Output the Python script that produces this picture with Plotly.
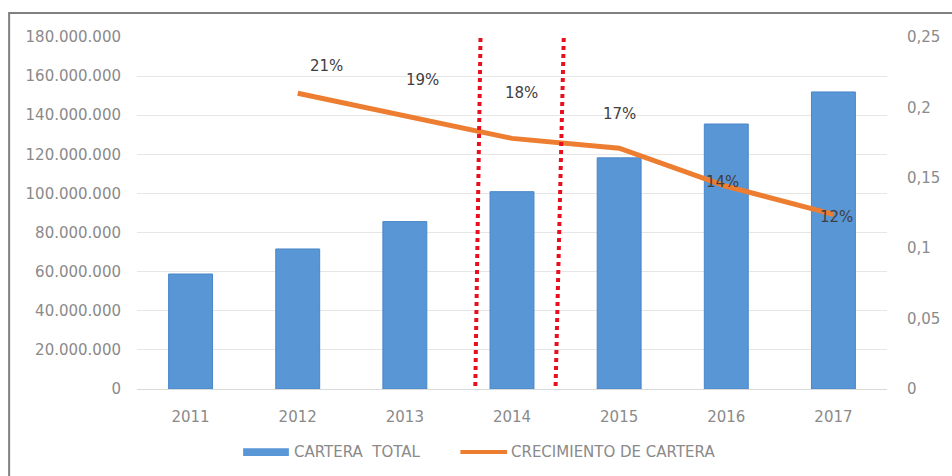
import plotly.graph_objects as go

# Portfolio totals per year and year-over-year growth
years = ["2011", "2012", "2013", "2014", "2015", "2016", "2017"]
cartera_total = [58_800_000, 71_600_000, 85_600_000, 100_900_000, 118_200_000, 135_500_000, 151_900_000]

growth_years = ["2012", "2013", "2014", "2015", "2016", "2017"]
crecimiento = [0.210, 0.194, 0.178, 0.171, 0.144, 0.124]

# pixel offsets for the growth labels (x, y)
label_xshift = [29, 18, 9, 0, -4, 3]
label_yshift = [27, 36, 45, 34, 4, -3]

# dotted red dividers framing 2014 (paper x at top / bottom of the plot)
divider_top = [0.458, 0.569]
divider_bottom = [0.451, 0.558]

FONT = "DejaVu Sans"
GRAY = "#8a8a8a"
BAR_COLOR = "#5896d6"
LINE_COLOR = "#ed7d31"

bar_name = "CARTERA\u00a0\u00a0TOTAL"
line_name = "CRECIMIENTO DE CARTERA"

fig = go.Figure()

fig.add_trace(go.Bar(
    x=years,
    y=cartera_total,
    name=bar_name,
    marker=dict(color=BAR_COLOR, line=dict(color="#4a86c8", width=1)),
    width=0.41,
    yaxis="y",
    showlegend=False,
))

fig.add_trace(go.Scatter(
    x=growth_years,
    y=crecimiento,
    name=line_name,
    mode="lines",
    line=dict(color=LINE_COLOR, width=5),
    yaxis="y2",
    showlegend=False,
))

annotations = []
for yr, val, dx, dy in zip(growth_years, crecimiento, label_xshift, label_yshift):
    # category axes take the category index for annotation positions
    annotations.append(dict(
        x=years.index(yr), y=val, xref="x", yref="y2",
        text=f"{round(val * 100):d}%",
        showarrow=False,
        xshift=dx, yshift=dy,
        font=dict(family=FONT, size=15, color="#404040"),
    ))

shapes = []
for xt, xb in zip(divider_top, divider_bottom):
    shapes.append(dict(
        type="line", xref="paper", yref="paper",
        x0=xt, y0=0.997, x1=xb, y1=-0.003,
        line=dict(color="#e8101e", width=4, dash="dot"),
        layer="above",
    ))

# outer frame of the chart box
shapes.append(dict(
    type="rect", xref="paper", yref="paper",
    x0=-0.1705, y0=-0.5, x1=1.3, y1=1.068,
    line=dict(color="#808080", width=2),
    fillcolor="rgba(0,0,0,0)",
    layer="below",
))

# legend row below the axis: swatch + label for each series
legend_y = -0.179
shapes.append(dict(
    type="rect", xref="paper", yref="paper",
    x0=0.1415, x1=0.2025, y0=legend_y - 0.011, y1=legend_y + 0.011,
    line=dict(width=0), fillcolor=BAR_COLOR,
))
shapes.append(dict(
    type="line", xref="paper", yref="paper",
    x0=0.4312, x1=0.4934, y0=legend_y, y1=legend_y,
    line=dict(color=LINE_COLOR, width=4),
))
annotations.append(dict(
    x=0.2063, y=legend_y, xref="paper", yref="paper",
    xanchor="left", yanchor="middle", showarrow=False,
    text=bar_name, font=dict(family=FONT, size=15, color=GRAY),
))
annotations.append(dict(
    x=0.496, y=legend_y, xref="paper", yref="paper",
    xanchor="left", yanchor="middle", showarrow=False,
    text=line_name, font=dict(family=FONT, size=15, color=GRAY),
))

fig.update_layout(
    width=952,
    height=476,
    margin=dict(l=137, r=59, t=37, b=87),
    paper_bgcolor="white",
    plot_bgcolor="white",
    separators=",.",
    font=dict(family=FONT, size=15, color=GRAY),
    showlegend=False,
    xaxis=dict(
        type="category",
        range=[-0.5, 6.5],
        showgrid=False,
        showline=True,
        linecolor="#d9d9d9",
        linewidth=1,
        ticks="",
        ticklabelstandoff=14,
        tickfont=dict(family=FONT, size=15, color=GRAY),
    ),
    yaxis=dict(
        range=[0, 180_000_000],
        dtick=20_000_000,
        tickformat=",d",
        showgrid=True,
        gridcolor="#e6e6e6",
        gridwidth=1,
        zeroline=False,
        showline=False,
        ticks="",
        ticklabelstandoff=15,
        tickfont=dict(family=FONT, size=15, color=GRAY),
    ),
    yaxis2=dict(
        overlaying="y",
        side="right",
        range=[0, 0.25],
        dtick=0.05,
        showgrid=False,
        zeroline=False,
        showline=False,
        ticks="",
        ticklabelstandoff=19,
        tickfont=dict(family=FONT, size=15, color=GRAY),
    ),
    annotations=annotations,
    shapes=shapes,
)

fig.write_html("out.html")
